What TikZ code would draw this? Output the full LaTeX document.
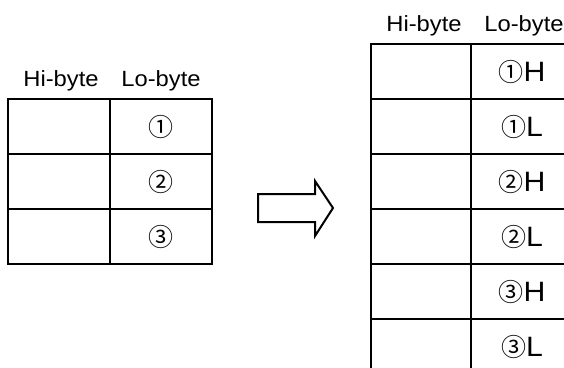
\documentclass[tikz,border=0pt]{standalone}
\usepackage{fontspec}
\setmainfont{Liberation Sans}[FakeStretch=1.08]
\newfontfamily\cjk{Noto Sans CJK KR}
\usetikzlibrary{positioning}

\tikzset{
  grid line/.style={line width=2pt},
  head label/.style={font=\fontsize{22}{26}\selectfont, inner sep=0pt, anchor=base},
  cell label/.style={font=\fontsize{25}{30}\selectfont\cjk, inner sep=0pt},
  big label/.style={font=\fontsize{28}{32}\selectfont, inner sep=0pt},
}
\newcommand{\circnum}[1]{{\cjk\fontsize{25}{30}\selectfont #1}}

\begin{document}
\begin{tikzpicture}[x=1pt, y=-1pt]
  \useasboundingbox (0,0) rectangle (564,367);
  \clip (0,0) rectangle (564,367);

  % 左表：三行
  \begin{scope}[shift={(8,99)}]
    \node[head label] (lhi) at (53,-13) {Hi-byte};
    \node[head label] (llo) at (153,-13) {Lo-byte};
    \draw[grid line] (0,0) rectangle (204,165);
    \draw[grid line] (102,0) -- (102,165);
    \foreach \y in {55,110}
      \draw[grid line] (0,\y) -- (204,\y);
    \node[cell label] (l1) at (153,27.5) {①};
    \node[cell label] (l2) at (153,82.5) {②};
    \node[cell label] (l3) at (153,137.5) {③};
  \end{scope}

  % 箭头
  \draw[line width=2pt, line join=miter]
    (258,194) -- (315,194) -- (315,181) -- (333,208)
    -- (315,236) -- (315,222) -- (258,222) -- cycle;

  % 右表：六行（右边与底边超出画面）
  \begin{scope}[shift={(371,44)}]
    \node[head label] (rhi) at (53,-13) {Hi-byte};
    \node[head label] (rlo) at (153,-13) {Lo-byte};
    \draw[grid line] (0,0) rectangle (202,330);
    \draw[grid line] (100,0) -- (100,330);
    \foreach \y in {55,110,...,275}
      \draw[grid line] (0,\y) -- (202,\y);
    \node[big label] (r1h) at (151,27.5) {\circnum{①}H};
    \node[big label] (r1l) at (151,82.5) {\circnum{①}L};
    \node[big label] (r2h) at (151,137.5) {\circnum{②}H};
    \node[big label] (r2l) at (151,192.5) {\circnum{②}L};
    \node[big label] (r3h) at (151,247.5) {\circnum{③}H};
    \node[big label] (r3l) at (151,302.5) {\circnum{③}L};
  \end{scope}
\end{tikzpicture}
\end{document}
